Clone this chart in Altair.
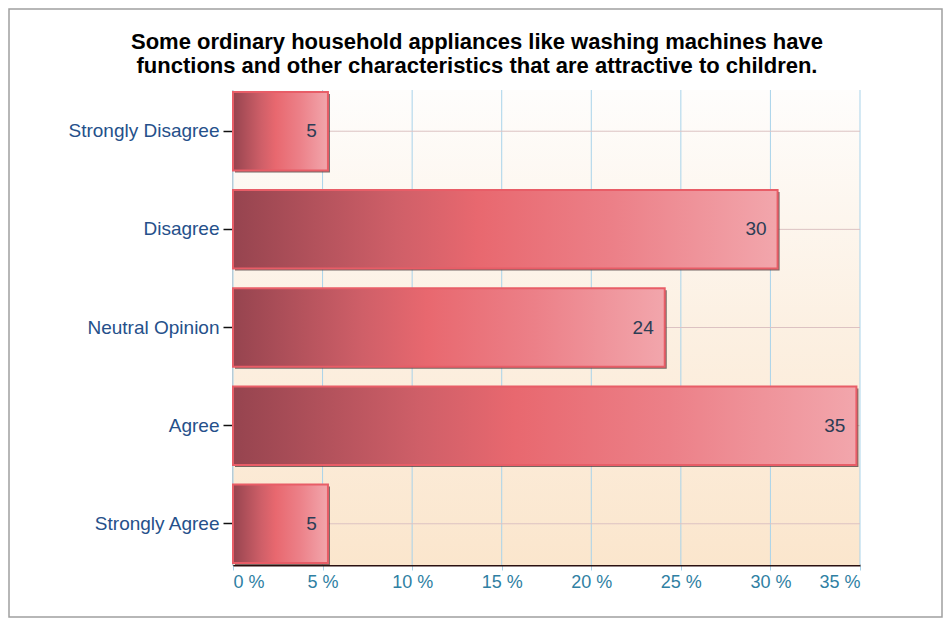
import altair as alt
import pandas as pd

categories = ["Strongly Disagree", "Disagree", "Neutral Opinion", "Agree", "Strongly Agree"]
values = [5.3, 30.4, 24.1, 34.8, 5.3]
labels = ["5", "30", "24", "35", "5"]
x_ticks = [0, 5, 10, 15, 20, 25, 30, 35]
title_lines = [
    "Some ordinary household appliances like washing machines have",
    "functions and other characteristics that are attractive to children.",
]

df = pd.DataFrame({"category": categories, "value": values, "label": labels})
df_ticks = pd.DataFrame({"tick": x_ticks})
df_cats = pd.DataFrame({"category": categories})
df_one = pd.DataFrame({"k": [0]})

W, H = 627, 475
PAD = {"left": 225, "top": 82, "right": 83, "bottom": 53}

x_scale = alt.Scale(domain=[0, 35], nice=False)
y_scale = alt.Scale(domain=categories, paddingInner=0.2, paddingOuter=0.02)

x_enc = alt.X(
    "value:Q",
    scale=x_scale,
    axis=alt.Axis(
        values=x_ticks,
        labelExpr="datum.value + ' %'",
        title=None,
        grid=False,
        domainColor="#2a1010",
        domainWidth=2,
        tickColor="#a9d3ea",
        tickSize=5,
        labelFont="Liberation Sans",
        labelFontSize=18,
        labelColor="#2f7fa3",
        labelPadding=3,
    ),
)
y_enc = alt.Y(
    "category:N",
    sort=categories,
    scale=y_scale,
    axis=alt.Axis(
        title=None,
        grid=False,
        domainColor="#111111",
        domainWidth=1.5,
        tickColor="#111111",
        tickSize=10,
        tickWidth=1.5,
        labelFont="Liberation Sans",
        labelFontSize=19,
        labelColor="#25508a",
        labelPadding=4,
    ),
)

view_grad = alt.Gradient(
    gradient="linear",
    x1=0, x2=0, y1=0, y2=1,
    stops=[
        alt.GradientStop(color="#fefdfc", offset=0),
        alt.GradientStop(color="#fcf0e2", offset=0.5),
        alt.GradientStop(color="#fbe6cd", offset=1),
    ],
)

frame = alt.Chart(df_one).mark_rect(fill=None, stroke="#a0a0a0", strokeWidth=1.5).encode(
    x=alt.value(-PAD["left"] + 1),
    x2=alt.value(W + PAD["right"] - 1),
    y=alt.value(-PAD["top"] + 1),
    y2=alt.value(H + PAD["bottom"] - 1),
)

title_mark = alt.Chart(df_one).mark_text(
    align="center", baseline="middle", font="Liberation Sans", fontSize=22,
    fontWeight="bold", color="#000000", lineHeight=24,
).encode(
    x=alt.value(244), y=alt.value(-48), text=alt.value(title_lines)
)

plot_bg = alt.Chart(df_one).mark_rect(color=view_grad).encode(
    x=alt.value(0), x2=alt.value(W), y=alt.value(0), y2=alt.value(H)
)

vgrid = alt.Chart(df_ticks).mark_rule(color="#a9d3ea", strokeWidth=1).encode(
    x=alt.X("tick:Q", scale=x_scale), y=alt.value(0), y2=alt.value(H)
)
hgrid = alt.Chart(df_cats).mark_rule(color="#dcc2c2", strokeWidth=1).encode(
    y=alt.Y("category:N", scale=y_scale, sort=categories), x=alt.value(0), x2=alt.value(W)
)

base = alt.Chart(df)

shadow = base.mark_bar(color="#4a3a3a", opacity=0.75, xOffset=2, yOffset=2).encode(
    x=x_enc, y=y_enc
)

bar_grad = alt.Gradient(
    gradient="linear",
    x1=0, x2=1, y1=0, y2=0,
    stops=[
        alt.GradientStop(color="#96444f", offset=0),
        alt.GradientStop(color="#cf5f68", offset=0.3),
        alt.GradientStop(color="#e8686f", offset=0.45),
        alt.GradientStop(color="#ec8088", offset=0.7),
        alt.GradientStop(color="#f2a6ac", offset=1),
    ],
)
bars = base.mark_bar(color=bar_grad, stroke="#e85d67", strokeWidth=2).encode(
    x=x_enc, y=y_enc
)

text = base.mark_text(
    align="right", baseline="middle", dx=-11, fontSize=19,
    font="Liberation Sans", color="#2c3d55",
).encode(
    x=alt.X("value:Q"), y=alt.Y("category:N", sort=categories), text="label:N"
)

chart = (
    alt.layer(frame, title_mark, plot_bg, vgrid, hgrid, shadow, bars, text)
    .properties(
        width=W,
        height=H,
        padding=PAD,
        autosize=alt.AutoSizeParams(type="none"),
    )
    .configure(background="white")
    .configure_view(stroke=None)
)

chart.save("out.html", embed_options={"renderer": "svg", "actions": False})
